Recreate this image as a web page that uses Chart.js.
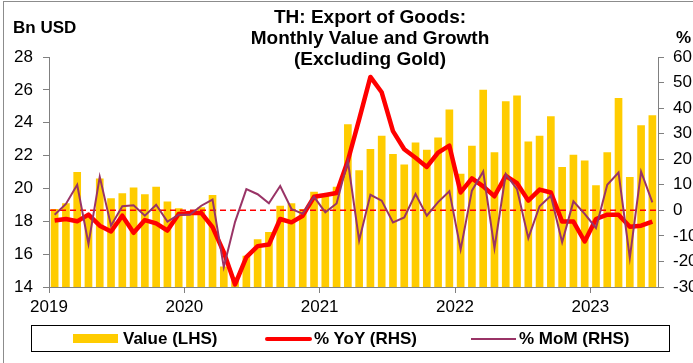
<!DOCTYPE html>
<html>
<head>
<meta charset="utf-8">
<script src="https://cdn.jsdelivr.net/npm/chart.js@4.4.1/dist/chart.umd.min.js"></script>
<style>
  html, body { margin: 0; padding: 0; background: #fff; overflow: hidden; }
  #wrap { position: relative; width: 693px; height: 363px; overflow: hidden;
          font-family: Arial, "Liberation Sans", sans-serif; color: #000; }
  #frame { position: absolute; left: 3px; top: 1px; width: 800px; height: 500px;
           border: 1px solid #8c8c8c; }
  canvas { position: absolute; left: 0; top: 0; }
  #title { position: absolute; left: 170px; top: 6px; width: 400px; text-align: center;
           font-weight: bold; font-size: 19px; line-height: 21px; white-space: nowrap; }
  .unit { position: absolute; font-weight: bold; font-size: 17px; line-height: 20px; white-space: nowrap; }
  #legend { position: absolute; left: 31px; top: 325px; width: 639px; height: 27px;
            box-sizing: border-box; border: 1px solid #000; }
  #legend .sw { position: absolute; }
  #legend .lab { position: absolute; top: 3px; font-weight: bold; font-size: 17px; line-height: 20px; white-space: nowrap; }
</style>
</head>
<body>
<div id="wrap">
  <div id="frame"></div>
  <canvas id="exports" width="693" height="363"></canvas>
  <div id="title">TH: Export of Goods:<br>Monthly Value and Growth<br>(Excluding Gold)</div>
  <div class="unit" style="left:13px; top:18px;">Bn USD</div>
  <div class="unit" style="left:676px; top:28px;">%</div>
  <div id="legend">
    <span class="sw" style="left:41px; top:8px; width:45px; height:9px; background:#ffcc00;"></span>
    <span class="lab" style="left:91px;">Value (LHS)</span>
    <span class="sw" style="left:233px; top:11px; width:47px; height:4px; border-radius:2px; background:#ff0000;"></span>
    <span class="lab" style="left:282px;">% YoY (RHS)</span>
    <span class="sw" style="left:439px; top:12px; width:45px; height:2px; background:#993366;"></span>
    <span class="lab" style="left:487px;">% MoM (RHS)</span>
  </div>
</div>
<script>
const months = [
  "Jan 2019", "Feb 2019", "Mar 2019", "Apr 2019", "May 2019", "Jun 2019", "Jul 2019", "Aug 2019", "Sep 2019", "Oct 2019", "Nov 2019", "Dec 2019",
  "Jan 2020", "Feb 2020", "Mar 2020", "Apr 2020", "May 2020", "Jun 2020", "Jul 2020", "Aug 2020", "Sep 2020", "Oct 2020", "Nov 2020", "Dec 2020",
  "Jan 2021", "Feb 2021", "Mar 2021", "Apr 2021", "May 2021", "Jun 2021", "Jul 2021", "Aug 2021", "Sep 2021", "Oct 2021", "Nov 2021", "Dec 2021",
  "Jan 2022", "Feb 2022", "Mar 2022", "Apr 2022", "May 2022", "Jun 2022", "Jul 2022", "Aug 2022", "Sep 2022", "Oct 2022", "Nov 2022", "Dec 2022",
  "Jan 2023", "Feb 2023", "Mar 2023", "Apr 2023", "May 2023", "Jun 2023"
];

// export value excluding gold, bn USD
const valueBn = [
  18.75, 19.1, 21.0, 18.3, 20.6, 19.4, 19.7, 20.05, 19.65, 20.1, 19.2, 18.8,
  18.55, 18.85, 19.6, 15.25, 14.6, 15.9, 16.9, 17.35, 18.95, 19.1, 18.75, 19.8,
  19.65, 20.1, 23.9, 21.1, 22.4, 23.2, 22.1, 21.45, 22.8, 22.35, 23.1, 24.8,
  20.9, 22.6, 26.0, 22.2, 25.3, 25.65, 22.85, 23.2, 24.4, 21.3, 22.05, 21.7,
  20.2, 22.2, 25.5, 20.7, 23.85, 24.45
];

// % change on a year earlier
const yoyPct = [
  -4.0, -3.4, -4.3, -1.7, -6.0, -8.3, -2.1, -8.8, -3.8, -5.1, -7.9, -1.4,
  -1.0, -1.0, -6.6, -16.4, -29.0, -18.3, -14.0, -13.4, -3.4, -4.7, -2.1, 5.3,
  6.0, 6.8, 19.4, 35.6, 52.2, 46.2, 31.0, 23.9, 20.6, 17.0, 22.6, 25.3,
  7.0, 12.5, 9.4, 5.5, 13.5, 10.6, 3.8, 8.1, 7.0, -4.4, -4.4, -12.2,
  -3.4, -1.7, -1.7, -6.4, -6.0, -4.4
];

// % change on the previous month
const momPct = [
  -1.7, 2.5, 10.0, -13.1, 13.1, -6.0, 1.6, 2.0, -2.1, 2.2, -4.4, -1.7,
  -1.7, 1.8, 4.2, -22.2, -4.5, 8.3, 6.3, 2.8, 9.5, 0.5, -1.3, 5.3,
  -0.8, 2.7, 19.4, -11.8, 6.1, 3.8, -4.7, -2.8, 6.4, -2.1, 3.2, 7.5,
  -15.3, 7.7, 15.2, -14.8, 14.2, 8.3, -10.9, 1.6, 5.7, -12.5, 3.5, -1.4,
  -6.9, 10.0, 14.8, -18.6, 15.1, 3.1
];

const axisGrey = "#808080";
const tickFont = { family: "Arial, 'Liberation Sans', sans-serif", size: 17 };

// dashed zero line on the % axis, drawn over the bars but under the lines
const zeroLine = {
  id: "zeroLine",
  afterDatasetDraw(chart, args) {
    if (args.index !== 0) return;
    const ctx = chart.ctx;
    const y = chart.scales.yR.getPixelForValue(0);
    const { left, right } = chart.chartArea;
    ctx.save();
    ctx.strokeStyle = "#ff0000";
    ctx.lineWidth = 1.5;
    ctx.setLineDash([6, 4]);
    ctx.beginPath();
    ctx.moveTo(left + 1, y);
    ctx.lineTo(right - 1, y);
    ctx.stroke();
    ctx.restore();
  }
};

new Chart(document.getElementById("exports"), {
  type: "bar",
  data: {
    labels: months,
    datasets: [
      {
        label: "Value (LHS)",
        data: valueBn,
        yAxisID: "y",
        backgroundColor: "#ffcc00",
        barPercentage: 0.68,
        categoryPercentage: 1.0,
        order: 3
      },
      {
        type: "line",
        label: "% YoY (RHS)",
        data: yoyPct,
        yAxisID: "yR",
        borderColor: "#ff0000",
        borderWidth: 4.5,
        borderJoinStyle: "round",
        pointRadius: 0,
        tension: 0,
        order: 2
      },
      {
        type: "line",
        label: "% MoM (RHS)",
        data: momPct,
        yAxisID: "yR",
        borderColor: "#993366",
        borderWidth: 2,
        pointRadius: 0,
        tension: 0,
        order: 1
      }
    ]
  },
  options: {
    responsive: false,
    animation: false,
    devicePixelRatio: 1,
    layout: { padding: { left: 0, right: 0, top: 57, bottom: 46 } },
    plugins: {
      legend: { display: false },
      title: { display: false },
      tooltip: { enabled: false }
    },
    scales: {
      x: {
        offset: true,
        grid: {
          offset: true,
          drawOnChartArea: false,
          tickLength: 6,
          color: ctx => (ctx.index % 12 === 0 ? axisGrey : "rgba(0,0,0,0)")
        },
        border: { color: axisGrey, width: 1 },
        ticks: {
          color: "#000",
          font: tickFont,
          padding: 4,
          autoSkip: false,
          maxRotation: 0,
          labelOffset: -5.64,
          callback: (v, i) => (i % 12 === 0 ? months[i].slice(-4) : "")
        },
        afterFit: scale => { scale.height = 30; }
      },
      y: {
        position: "left",
        min: 14,
        max: 28,
        ticks: { stepSize: 2, color: "#000", font: tickFont, padding: 10 },
        grid: { drawOnChartArea: false, tickLength: 6, color: axisGrey },
        border: { color: axisGrey, width: 1 },
        afterFit: scale => { scale.width = 49; }
      },
      yR: {
        position: "right",
        min: -30,
        max: 60,
        ticks: { stepSize: 10, color: "#000", font: tickFont, padding: 9 },
        grid: { drawOnChartArea: false, tickLength: 6, color: axisGrey },
        border: { color: axisGrey, width: 1 },
        afterFit: scale => { scale.width = 35; }
      }
    }
  },
  plugins: [zeroLine]
});
</script>
</body>
</html>
